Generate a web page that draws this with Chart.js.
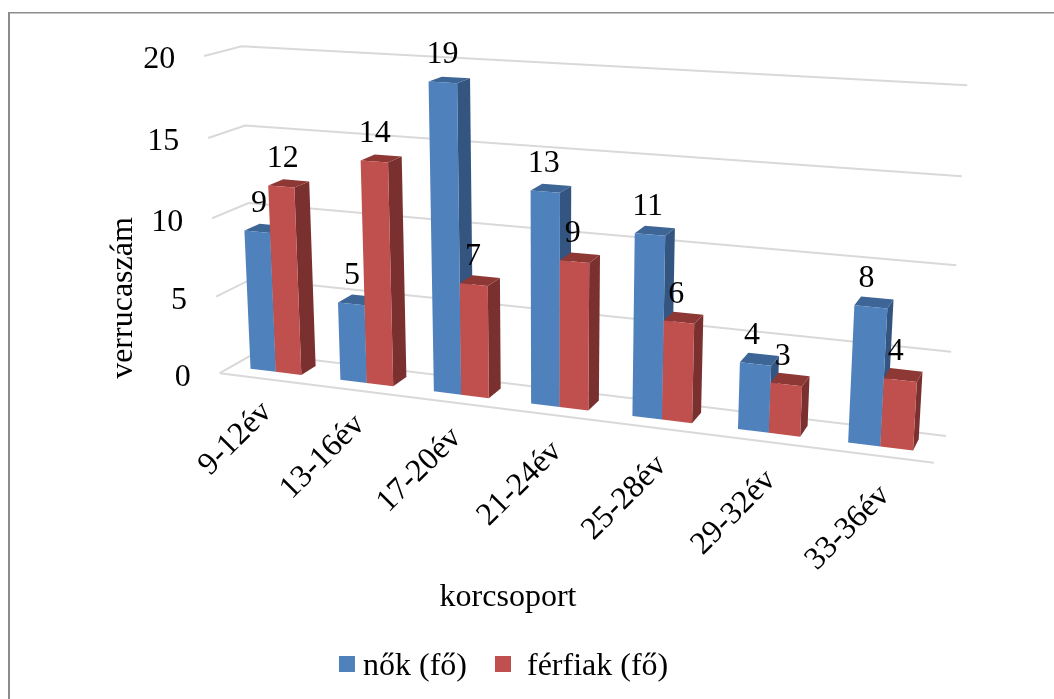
<!DOCTYPE html>
<html>
<head>
<meta charset="utf-8">
<title>verrucaszám korcsoportonként</title>
<script src="https://cdn.jsdelivr.net/npm/chart.js@4"></script>
<style>
  html, body { margin: 0; padding: 0; background: #fff; }
  canvas { display: block; }
</style>
</head>
<body>
<canvas id="chart" width="1054" height="699"></canvas>
<script>
const categories = ['9-12év', '13-16év', '17-20év', '21-24év', '25-28év', '29-32év', '33-36év'];
const nok = [9, 5, 19, 13, 11, 4, 8];
const ferfiak = [12, 14, 7, 9, 6, 3, 4];
const seriesNames = ['nők (fő)', ' férfiak (fő)'];
const frontColors = ['#4F81BD', '#C0504D'];
const sideColors = ['#34557F', '#7B3030'];
const topColors = ['#3D6595', '#8E3836'];
const xTitle = 'korcsoport';
const yTitle = 'verrucaszám';

const FONT = '"Liberation Serif", serif';
const TEXT_SIZE = 32;
const GRID = '#D9D9D9';

// Camera reference points: [along the categories, height, depth] -> page position.
const cameraPoints = [
  [0, 0, 0, 222, 372], [0, 0, 1, 252, 355], [1, 0, 1, 946, 435], [1, 0, 0, 934, 464],
  [0, 1, 0, 202, 57], [0, 1, 1, 243, 46], [1, 1, 1, 967, 85],
  [0, .75, 0, 207, 138], [0, .75, 1, 247, 125], [1, .75, 1, 962, 177],
  [1, .25, 1, 951, 351], [0, .5, 0, 212, 218], [0, .25, 0, 217, 296]
];

// Least-squares fit of the 3x4 perspective matrix (last element fixed at 1).
function solveCamera(points) {
  const n = 11;
  const A = Array.from({ length: n }, () => new Array(n + 1).fill(0));
  const addRow = (row, rhs) => {
    for (let i = 0; i < n; i++) {
      for (let j = 0; j < n; j++) A[i][j] += row[i] * row[j];
      A[i][n] += row[i] * rhs;
    }
  };
  points.forEach(([X, Y, Z, px, py]) => {
    const sx = px / 1000, sy = py / 1000;
    addRow([X, Y, Z, 1, 0, 0, 0, 0, -sx * X, -sx * Y, -sx * Z], sx);
    addRow([0, 0, 0, 0, X, Y, Z, 1, -sy * X, -sy * Y, -sy * Z], sy);
  });
  for (let c = 0; c < n; c++) {
    let pivot = c;
    for (let r = c + 1; r < n; r++) if (Math.abs(A[r][c]) > Math.abs(A[pivot][c])) pivot = r;
    [A[c], A[pivot]] = [A[pivot], A[c]];
    for (let r = 0; r < n; r++) {
      if (r === c) continue;
      const f = A[r][c] / A[c][c];
      for (let k = c; k <= n; k++) A[r][k] -= f * A[c][k];
    }
  }
  return A.map((row, i) => row[n] / row[i]);
}
const cam = solveCamera(cameraPoints);

function project(u, v, w) {
  const d = cam[8] * u + cam[9] * v + cam[10] * w + 1;
  return {
    x: 1000 * (cam[0] * u + cam[1] * v + cam[2] * w + cam[3]) / d,
    y: 1000 * (cam[4] * u + cam[5] * v + cam[6] * w + cam[7]) / d
  };
}

// Bars stand in a band of the floor, between these two depths.
const BAR_FRONT = 0.33, BAR_BACK = 0.76;

function polygon(ctx, pts, fill) {
  ctx.beginPath();
  pts.forEach((p, i) => (i ? ctx.lineTo(p.x, p.y) : ctx.moveTo(p.x, p.y)));
  ctx.closePath();
  ctx.fillStyle = fill;
  ctx.fill();
}

const perspectiveBars = {
  id: 'perspectiveBars',
  beforeDatasetsDraw(chart) {
    const { ctx, chartArea: area, scales } = chart;
    const toU = x => (x - area.left) / area.width;
    const toV = y => (area.bottom - y) / area.height;

    // walls and floor
    ctx.save();
    ctx.strokeStyle = GRID;
    ctx.lineWidth = 2;
    scales.y.ticks.forEach(tick => {
      const v = toV(scales.y.getPixelForValue(tick.value));
      const a = project(0, v, 0), b = project(0, v, 1), c = project(1, v, 1);
      ctx.beginPath();
      ctx.moveTo(a.x, a.y); ctx.lineTo(b.x, b.y); ctx.lineTo(c.x, c.y);
      ctx.stroke();
      if (tick.value === 0) {
        const d = project(1, 0, 0);
        ctx.beginPath();
        ctx.moveTo(a.x, a.y); ctx.lineTo(d.x, d.y);
        ctx.stroke();
      }
    });
    ctx.restore();

    // value axis labels
    ctx.save();
    ctx.fillStyle = '#000';
    ctx.font = `${TEXT_SIZE}px ${FONT}`;
    ctx.textAlign = 'right';
    ctx.textBaseline = 'middle';
    scales.y.ticks.forEach(tick => {
      const p = project(0, toV(scales.y.getPixelForValue(tick.value)), 0);
      ctx.fillText(String(tick.value), p.x - 29, p.y + 4);
    });

    // category labels, slanted
    ctx.textAlign = 'right';
    categories.forEach((label, i) => {
      const u = toU(scales.x.getPixelForValue(i));
      const p = project(u, 0, 0);
      ctx.save();
      ctx.translate(p.x + 2 + 8 * u, p.y + 28 + 8 * u);
      ctx.rotate(-Math.PI / 4);
      ctx.fillText(label, 0, 0);
      ctx.restore();
    });

    // axis titles
    ctx.textAlign = 'center';
    ctx.fillText(xTitle, 508, 598);
    ctx.save();
    ctx.translate(124, 298);
    ctx.rotate(-Math.PI / 2);
    ctx.fillText(yTitle, 0, 0);
    ctx.restore();

    // legend
    ctx.textAlign = 'left';
    ctx.textBaseline = 'alphabetic';
    const legendBoxes = [339, 495];
    seriesNames.forEach((name, i) => {
      ctx.fillStyle = frontColors[i];
      ctx.fillRect(legendBoxes[i], 656, 16, 16);
      ctx.fillStyle = '#000';
      ctx.fillText(name, legendBoxes[i] + 24, 675);
    });
    ctx.restore();

    // bars, left to right, series by series within a category
    const metas = chart.data.datasets.map((_, i) => chart.getDatasetMeta(i));
    categories.forEach((_, c) => {
      metas.forEach((meta, s) => {
        const bar = meta.data[c];
        const { x, y, base, width } = bar.getProps(['x', 'y', 'base', 'width'], true);
        const l = toU(x - width / 2), r = toU(x + width / 2);
        const t = toV(y), b = toV(base);
        const fbl = project(l, b, BAR_FRONT), fbr = project(r, b, BAR_FRONT);
        const ftl = project(l, t, BAR_FRONT), ftr = project(r, t, BAR_FRONT);
        const bbr = project(r, b, BAR_BACK), btr = project(r, t, BAR_BACK), btl = project(l, t, BAR_BACK);
        polygon(ctx, [fbr, bbr, btr, ftr], sideColors[s]);
        polygon(ctx, [ftl, ftr, btr, btl], topColors[s]);
        polygon(ctx, [fbl, fbr, ftr, ftl], frontColors[s]);
      });
    });

    // value labels sit above each bar's front edge
    ctx.save();
    ctx.fillStyle = '#000';
    ctx.font = `${TEXT_SIZE}px ${FONT}`;
    ctx.textAlign = 'center';
    ctx.textBaseline = 'middle';
    metas.forEach(meta => {
      meta.data.forEach((bar, c) => {
        const { x, y } = bar.getProps(['x', 'y'], true);
        const u = toU(x);
        const p = project(u, toV(y), BAR_FRONT);
        ctx.fillText(String(meta._dataset.data[c]), p.x + 2 - 7 * u, p.y - 28);
      });
    });
    ctx.restore();
    return false;
  }
};

const framePlugin = {
  id: 'frame',
  beforeDraw(chart) {
    const { ctx, width, height } = chart;
    ctx.save();
    ctx.fillStyle = '#fff';
    ctx.fillRect(0, 0, width, height);
    ctx.fillStyle = '#8C8C8C';
    ctx.fillRect(8, 12, width - 8, 1.5);
    ctx.fillRect(8, 12, 2, height - 12);
    ctx.restore();
  }
};

new Chart(document.getElementById('chart'), {
  type: 'bar',
  data: {
    labels: categories,
    datasets: [
      { label: seriesNames[0], data: nok, backgroundColor: frontColors[0] },
      { label: seriesNames[1], data: ferfiak, backgroundColor: frontColors[1] }
    ]
  },
  options: {
    responsive: false,
    animation: false,
    events: [],
    categoryPercentage: 0.57,
    barPercentage: 1,
    layout: { padding: 0 },
    scales: {
      x: { display: false },
      y: { display: false, min: 0, max: 20, ticks: { stepSize: 5 } }
    },
    plugins: { legend: { display: false }, tooltip: { enabled: false } }
  },
  plugins: [framePlugin, perspectiveBars]
});
</script>
</body>
</html>
